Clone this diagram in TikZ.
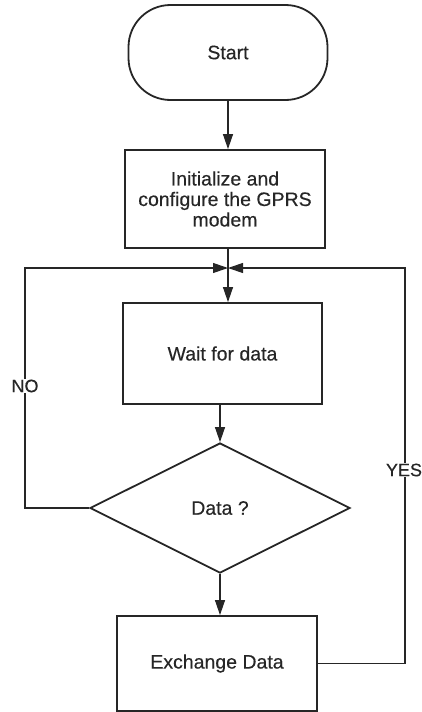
\documentclass[tikz,border=0pt]{standalone}
\usepackage{fontspec}
\setmainfont{Liberation Sans}
\newfontfamily\boxfont[FakeBold=0.35]{Liberation Sans}
\usetikzlibrary{shapes.geometric,arrows.meta}

\definecolor{ink}{HTML}{262626}

\tikzset{
  box/.style={draw=ink, line width=1.8pt, text=ink, align=center,
              inner sep=0pt, font=\boxfont\fontsize{19.5}{20.5}\selectfont},
  term/.style={box, rounded corners=42pt, minimum width=199pt, minimum height=95pt},
  proc/.style={box, minimum width=200pt, minimum height=98pt},
  decision/.style={box, shape=diamond, minimum width=260pt, minimum height=130pt},
  link/.style={draw=ink, line width=1.1pt},
  flow/.style={link, -{Triangle[length=15pt,width=10pt]}},
  tag/.style={fill=white, text=ink, inner sep=1pt, font=\boxfont\fontsize{18}{20}\selectfont}
}

\begin{document}
\begin{tikzpicture}[x=1pt,y=-1pt]
  \useasboundingbox (0,0) rectangle (422,712);

  % process steps
  \node[term] (start) at (228,52.5) {Start};
  \node[proc] (init) at (225,199) {Initialize and\\configure the GPRS\\modem};
  \coordinate (join) at (228,268);
  \node[proc, minimum width=199pt, minimum height=101pt] (wait) at (222.5,353.5) {Wait for data};
  \node[decision] (data) at (220,508) {Data ?};
  \node[proc, minimum height=95pt] (xchg) at (217,663.5) {Exchange Data};

  % loop-back corners
  \coordinate (nocorner) at (25,268);
  \coordinate (yescorner) at (405,268);

  % main flow
  \draw[flow] (start.south) -- (start.south |- init.north);
  \draw[link] (join |- init.south) -- (join);
  \draw[flow] (join) -- (join |- wait.north);
  \draw[flow] (data.north |- wait.south) -- (data.north);
  \draw[flow] (data.south) -- (data.south |- xchg.north);

  % NO branch back to the waiting step
  \draw[flow] (data.west) -| (nocorner) -- (join);
  \node[tag] (no) at (25,386) {NO};

  % YES branch after the exchange
  \draw[flow] (xchg.east) -| (yescorner) -- (join);
  \node[tag] (yes) at (404,470) {YES};
\end{tikzpicture}
\end{document}
